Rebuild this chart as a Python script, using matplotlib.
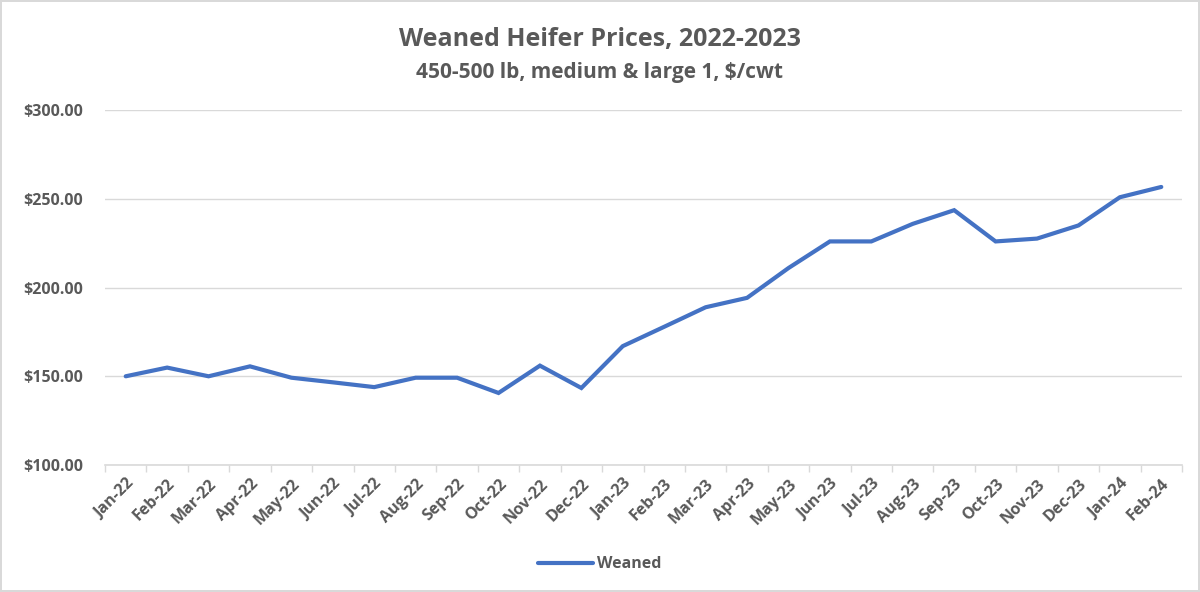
import matplotlib
matplotlib.use("Agg")
import matplotlib.pyplot as plt
from matplotlib.ticker import FixedLocator, NullFormatter, FuncFormatter
import numpy as np

months = ["Jan-22", "Feb-22", "Mar-22", "Apr-22", "May-22", "Jun-22", "Jul-22", "Aug-22",
          "Sep-22", "Oct-22", "Nov-22", "Dec-22", "Jan-23", "Feb-23", "Mar-23", "Apr-23",
          "May-23", "Jun-23", "Jul-23", "Aug-23", "Sep-23", "Oct-23", "Nov-23", "Dec-23",
          "Jan-24", "Feb-24"]
weaned = [150.0, 154.9, 150.0, 155.6, 149.2, 146.6, 143.9, 149.2, 149.2, 140.6, 156.0, 143.4,
          167.0, 177.9, 188.9, 194.2, 211.0, 226.0, 226.0, 235.9, 243.6, 226.0, 227.6, 235.0,
          250.9, 256.7]

title = "Weaned Heifer Prices, 2022-2023"
subtitle = "450-500 lb, medium & large 1, $/cwt"
yticks = [100, 150, 200, 250, 300]

plt.rcParams['font.family'] = ['Open Sans', 'DejaVu Sans']
TXT = "#595959"
GRID = "#d9d9d9"

fig = plt.figure(figsize=(12, 5.92), dpi=100)
fig.patch.set_facecolor("white")
fig.patch.set_edgecolor("#d9d9d9")
fig.patch.set_linewidth(1.5)

ax = fig.add_axes([0.0875, 0.2145, 0.8975, 0.5995])
x = np.arange(len(months))
ax.plot(x, weaned, color="#4472C4", lw=3.0, solid_capstyle="round", solid_joinstyle="miter",
        label="Weaned")

ax.set_xlim(-0.5, len(months) - 0.5)
ax.set_ylim(100, 300)
ax.set_yticks(yticks)
ax.yaxis.set_major_formatter(FuncFormatter(lambda v, p: f"${v:,.2f}"))
ax.grid(axis="y", color=GRID, lw=1.0)
ax.set_axisbelow(True)

ax.xaxis.set_major_locator(FixedLocator(np.arange(-0.5, len(months), 1.0)))
ax.xaxis.set_major_formatter(NullFormatter())
ax.xaxis.set_minor_locator(FixedLocator(x))
ax.set_xticklabels(months, minor=True)
ax.tick_params(axis="x", which="major", length=5, color=GRID, width=1)
ax.tick_params(axis="x", which="minor", length=0, pad=8)
for lbl in ax.get_xticklabels(minor=True):
    lbl.set_rotation(45)
    lbl.set_ha("right")
    lbl.set_va("top")
    lbl.set_rotation_mode("anchor")
    lbl.set_fontsize(11.5)
    lbl.set_fontweight("bold")
    lbl.set_color(TXT)
ax.tick_params(axis="y", length=0, pad=16, labelsize=11.5, labelcolor=TXT)
for lbl in ax.get_yticklabels():
    lbl.set_fontweight("bold")

for s in ["top", "right", "left"]:
    ax.spines[s].set_visible(False)
ax.spines["bottom"].set_color(GRID)
ax.spines["bottom"].set_linewidth(1.2)

fig.text(0.5, 0.933, title, ha="center", va="center", fontsize=18, fontweight="bold", color=TXT)
fig.text(0.5, 0.877, subtitle, ha="center", va="center", fontsize=15, fontweight="bold", color=TXT)

leg = fig.legend(loc="center", bbox_to_anchor=(0.5, 0.047), frameon=False, handlelength=3.4,
                 handletextpad=0.3, prop={"size": 11.5, "weight": "bold"})
for t in leg.get_texts():
    t.set_color(TXT)

fig.savefig("out.png", dpi=100, facecolor=fig.get_facecolor(), edgecolor=fig.get_edgecolor())
